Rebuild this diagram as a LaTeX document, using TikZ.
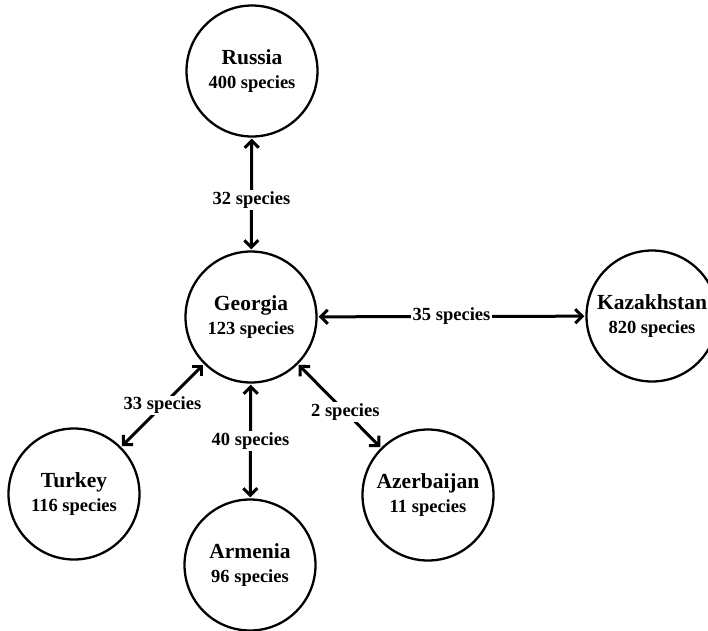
\documentclass[tikz,border=0pt]{standalone}
\usepackage{fontspec}
\setmainfont{Liberation Serif}
\usetikzlibrary{arrows.meta}
\newcommand{\cname}[1]{{\fontsize{21.5}{23}\selectfont #1}}
\begin{document}
\begin{tikzpicture}[x=1pt,y=-1pt,
  country/.style={circle,draw,line width=2.3pt,minimum size=131pt,inner sep=0pt,align=center,font=\fontsize{18.5}{24}\selectfont\bfseries},
  link/.style={line width=3pt,{Straight Barb[length=7pt,width=14pt]}-{Straight Barb[length=7pt,width=14pt]},shorten <=1pt,shorten >=1pt},
  lab/.style={fill=white,inner sep=1.5pt,font=\fontsize{18.5}{22}\selectfont\bfseries}]
\useasboundingbox (0,0) rectangle (708,630);
\node[country] (rus) at (252,71) {\cname{Russia}\\400 species};
\node[country] (geo) at (251,317) {\cname{Georgia}\\123 species};
\node[country] (kaz) at (652,316) {\cname{Kazakhstan}\\820 species};
\node[country] (tur) at (74,494) {\cname{Turkey}\\116 species};
\node[country] (arm) at (250,565) {\cname{Armenia}\\96 species};
\node[country] (aze) at (428,495) {\cname{Azerbaijan}\\11 species};
\draw[link] (geo) -- node[lab,pos=0.45] {32 species} (rus);
\draw[link] (geo) -- node[lab] {35 species} (kaz);
\draw[link] (geo) -- node[lab] {33 species} (tur);
\draw[link] (geo) -- node[lab] {40 species} (arm);
\draw[link] (geo) -- node[lab,pos=0.57] {2 species} (aze);
\end{tikzpicture}
\end{document}
